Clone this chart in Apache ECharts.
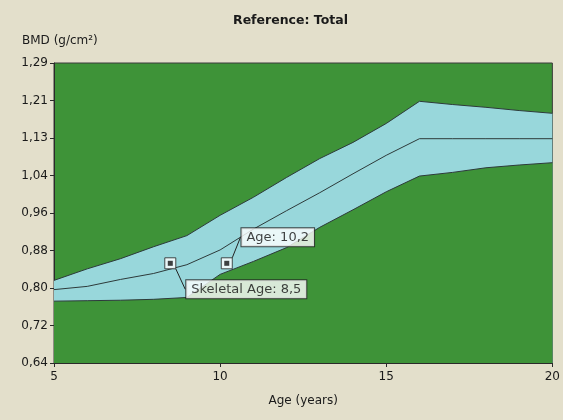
<!DOCTYPE html>
<html><head><meta charset="utf-8">
<script src="https://cdn.jsdelivr.net/npm/echarts@6/dist/echarts.min.js"></script>
<style>html,body{margin:0;padding:0;background:#E3DFCB;}#c{width:563px;height:420px;}</style>
</head><body><div id="c"></div>
<script>
const ages = [5,6,7,8,9,10,11,12,13,14,15,16,17,18,19,20];
const upper = [0.819,0.844,0.866,0.892,0.916,0.960,0.999,1.042,1.083,1.118,1.159,1.207,1.200,1.194,1.187,1.181];
const median = [0.799,0.806,0.821,0.834,0.853,0.885,0.930,0.970,1.009,1.050,1.090,1.126,1.126,1.126,1.126,1.126];
const lower = [0.774,0.775,0.776,0.778,0.782,0.832,0.860,0.890,0.934,0.972,1.011,1.045,1.053,1.063,1.069,1.074];
const yTickLabels = ['0,64','0,72','0,80','0,88','0,96','1,04','1,13','1,21','1,29'];
const points = [
  {name:'Skeletal Age: 8,5', age:8.5, bmd:0.856},
  {name:'Age: 10,2', age:10.2, bmd:0.856}
];
const yMin = 0.64, yMax = 1.29, yStep = (yMax - yMin) / (yTickLabels.length - 1);
const pair = arr => ages.map((a,i)=>[a,arr[i]]);
const FONT = 'DejaVu Sans';
const chart = echarts.init(document.getElementById('c'));
chart.setOption({
  backgroundColor:'#E3DFCB',
  animation:false,
  title:{text:'Reference: Total', left:228, top:9,
    textStyle:{fontFamily:FONT, fontSize:12.5, fontWeight:'bold', color:'#1a1a1a'}},
  grid:{left:54, right:8, top:63, bottom:57, show:true, backgroundColor:'#3E9338', borderColor:'#3a3a3a', borderWidth:1},
  xAxis:{type:'value', min:5, max:20, interval:5, name:'Age (years)', nameLocation:'middle', nameGap:32,
    nameTextStyle:{fontFamily:FONT, fontSize:12, color:'#1a1a1a'},
    axisLine:{lineStyle:{color:'#2a2a2a'}}, axisTick:{length:4, lineStyle:{color:'#2a2a2a'}},
    axisLabel:{fontFamily:FONT, fontSize:12, color:'#1a1a1a', margin:8}, splitLine:{show:false}},
  yAxis:{type:'value', min:yMin, max:yMax, interval:yStep, name:'BMD (g/cm²)', nameLocation:'end', nameGap:16,
    nameTextStyle:{fontFamily:FONT, fontSize:12, color:'#1a1a1a', align:'left', padding:[0,0,0,-32]},
    axisLine:{show:true, lineStyle:{color:'#2a2a2a'}}, axisTick:{show:true, length:4, lineStyle:{color:'#2a2a2a'}},
    axisLabel:{fontFamily:FONT, fontSize:12, color:'#1a1a1a', margin:6,
      formatter:v=>yTickLabels[Math.round((v-yMin)/yStep)]}, splitLine:{show:false}},
  series:[
    {type:'line', data:pair(upper), symbol:'none', lineStyle:{color:'#2d3a3a', width:1},
     areaStyle:{color:'#98D7DB', opacity:1, origin:'start'}, z:2},
    {type:'line', data:pair(lower), symbol:'none', lineStyle:{color:'#2d3a3a', width:1},
     areaStyle:{color:'#3E9338', opacity:1, origin:'start'}, z:3},
    {type:'line', data:pair(median), symbol:'none', lineStyle:{color:'#2d3a3a', width:1}, z:4},
    {type:'scatter', data:points.map(p=>({name:p.name, value:[p.age,p.bmd]})), symbol:'rect', symbolSize:11,
     itemStyle:{color:'#ffffff', borderColor:'#222', borderWidth:1}, z:5,
     label:{show:true, position:'inside', formatter:'{b}', fontFamily:FONT, fontSize:13, color:'#111',
       backgroundColor:'#ffffff', borderColor:'#222', borderWidth:1, padding:[3,5,2,5]},
     labelLayout:(p)=> p.dataIndex===0 ? {dx:76, dy:26} : {dx:51, dy:-26},
     labelLine:{show:true, lineStyle:{color:'#222', width:1}}},
    {type:'scatter', data:points.map(p=>[p.age,p.bmd]), symbol:'rect', symbolSize:5,
     itemStyle:{color:'#111'}, z:6, silent:true}
  ]
});
</script></body></html>
